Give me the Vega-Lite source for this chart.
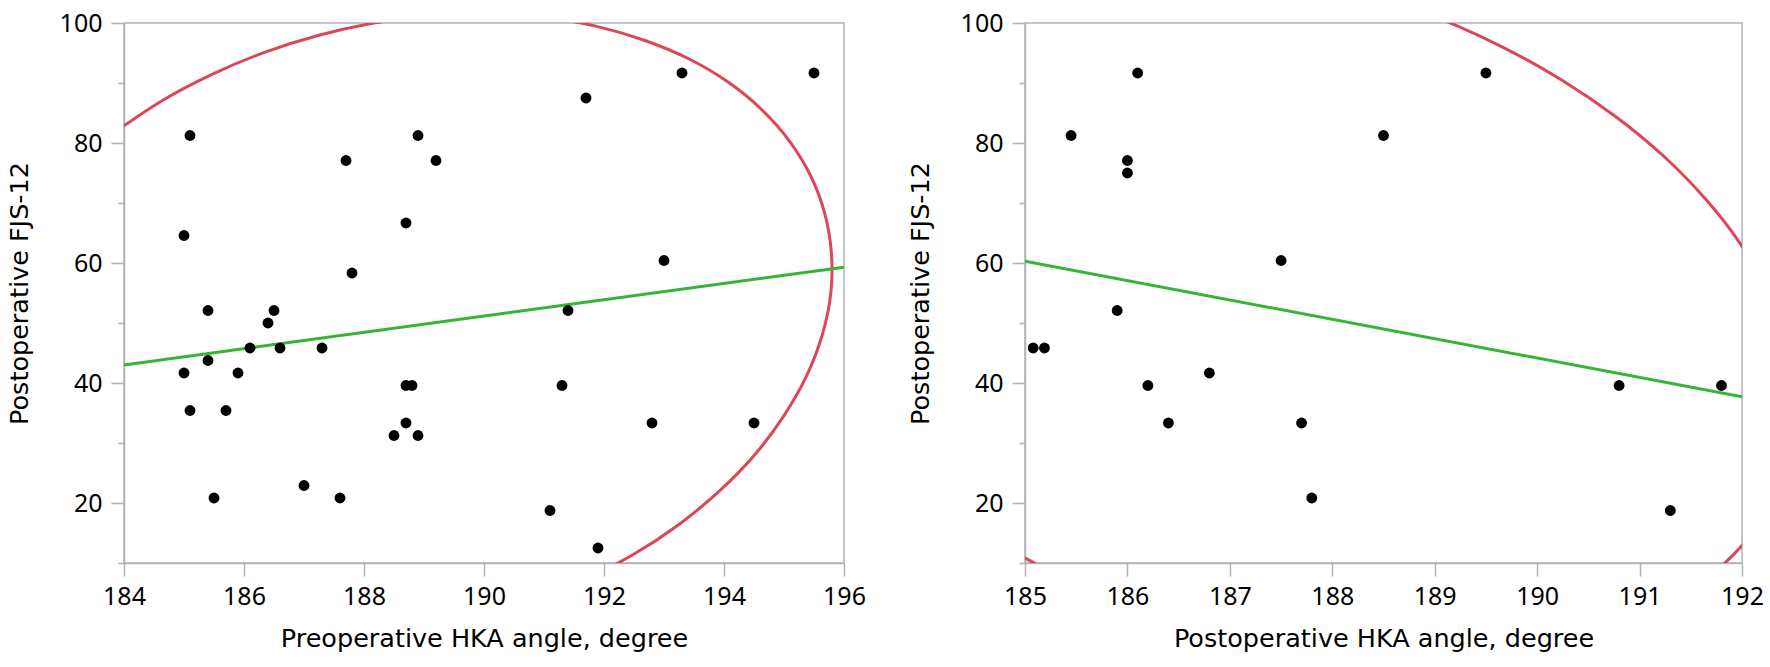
{
  "$schema": "https://vega.github.io/schema/vega-lite/v6.json",
  "padding": {"left": 6, "top": 10, "right": 4, "bottom": 4},
  "background": "white",
  "config": {
    "font": "Noto Sans",
    "view": {"stroke": "#aeb3b8", "strokeWidth": 1.5},
    "axis": {
      "domainColor": "#aeb3b8", "domainWidth": 1.5,
      "tickColor": "#aeb3b8", "tickWidth": 1.5,
      "labelFont": "Noto Sans", "titleFont": "DejaVu Sans",
      "labelFontSize": 25, "titleFontSize": 25.5, "titleFontWeight": "normal",
      "labelColor": "#000", "titleColor": "#000", "grid": false,
      "labelOverlap": false, "labelFlush": false
    }
  },
  "datasets": {
    "ptsL": [
      {"x": 185.1, "y": 81.25}, {"x": 187.7, "y": 77.08}, {"x": 188.9, "y": 81.25}, {"x": 189.2, "y": 77.08},
      {"x": 191.7, "y": 87.5}, {"x": 185.0, "y": 64.58}, {"x": 188.7, "y": 66.67}, {"x": 187.8, "y": 58.33},
      {"x": 185.4, "y": 52.08}, {"x": 186.5, "y": 52.08}, {"x": 186.4, "y": 50.0}, {"x": 191.4, "y": 52.08},
      {"x": 193.3, "y": 91.67}, {"x": 195.5, "y": 91.67}, {"x": 193.0, "y": 60.42}, {"x": 186.1, "y": 45.83},
      {"x": 186.6, "y": 45.83}, {"x": 187.3, "y": 45.83}, {"x": 185.4, "y": 43.75}, {"x": 185.0, "y": 41.67},
      {"x": 185.9, "y": 41.67}, {"x": 185.1, "y": 35.42}, {"x": 185.7, "y": 35.42}, {"x": 188.7, "y": 39.58},
      {"x": 188.8, "y": 39.58}, {"x": 188.7, "y": 33.33}, {"x": 188.5, "y": 31.25}, {"x": 188.9, "y": 31.25},
      {"x": 185.5, "y": 20.83}, {"x": 187.0, "y": 22.92}, {"x": 187.6, "y": 20.83}, {"x": 191.3, "y": 39.58},
      {"x": 191.1, "y": 18.75}, {"x": 191.9, "y": 12.5}, {"x": 192.8, "y": 33.33}, {"x": 194.5, "y": 33.33}
    ],
    "ptsR": [
      {"x": 186.1, "y": 91.67}, {"x": 185.45, "y": 81.25}, {"x": 186.0, "y": 77.08}, {"x": 186.0, "y": 75.0},
      {"x": 187.5, "y": 60.42}, {"x": 185.9, "y": 52.08}, {"x": 189.5, "y": 91.67}, {"x": 188.5, "y": 81.25},
      {"x": 185.08, "y": 45.83}, {"x": 185.19, "y": 45.83}, {"x": 186.2, "y": 39.58}, {"x": 186.8, "y": 41.67},
      {"x": 186.4, "y": 33.33}, {"x": 187.7, "y": 33.33}, {"x": 187.8, "y": 20.83}, {"x": 190.8, "y": 39.58},
      {"x": 191.8, "y": 39.58}, {"x": 191.3, "y": 18.75}
    ],
    "ellL": [
      {"s": "a", "i": 0, "x": 183.86, "y": 81.9}, {"s": "a", "i": 1, "x": 184.62, "y": 86.97},
      {"s": "a", "i": 2, "x": 185.45, "y": 91.37}, {"s": "a", "i": 3, "x": 186.33, "y": 95.07},
      {"s": "a", "i": 4, "x": 187.25, "y": 97.97}, {"s": "a", "i": 5, "x": 188.19, "y": 100.03},
      {"s": "a", "i": 6, "x": 189.14, "y": 101.23}, {"s": "a", "i": 7, "x": 190.08, "y": 101.53},
      {"s": "a", "i": 8, "x": 190.99, "y": 100.96}, {"s": "a", "i": 9, "x": 191.86, "y": 99.48},
      {"s": "a", "i": 10, "x": 192.67, "y": 97.13}, {"s": "a", "i": 11, "x": 193.42, "y": 94.0},
      {"s": "a", "i": 12, "x": 194.08, "y": 90.07}, {"s": "a", "i": 13, "x": 194.64, "y": 85.45},
      {"s": "a", "i": 14, "x": 195.1, "y": 80.2}, {"s": "a", "i": 15, "x": 195.45, "y": 74.42},
      {"s": "a", "i": 16, "x": 195.68, "y": 68.22}, {"s": "a", "i": 17, "x": 195.79, "y": 61.68},
      {"s": "a", "i": 18, "x": 195.78, "y": 54.93}, {"s": "a", "i": 19, "x": 195.64, "y": 48.08},
      {"s": "a", "i": 20, "x": 195.38, "y": 41.27}, {"s": "a", "i": 21, "x": 195.0, "y": 34.57},
      {"s": "a", "i": 22, "x": 194.52, "y": 28.13}, {"s": "a", "i": 23, "x": 193.93, "y": 22.05},
      {"s": "a", "i": 24, "x": 193.25, "y": 16.43}, {"s": "a", "i": 25, "x": 192.48, "y": 11.37},
      {"s": "a", "i": 26, "x": 191.65, "y": 6.97}
    ],
    "ellR": [
      {"s": "a", "i": 0, "x": 188.397, "y": 104.67}, {"s": "a", "i": 1, "x": 189.041, "y": 100.77},
      {"s": "a", "i": 2, "x": 189.657, "y": 96.03}, {"s": "a", "i": 3, "x": 190.235, "y": 90.55},
      {"s": "a", "i": 4, "x": 190.765, "y": 84.42}, {"s": "a", "i": 5, "x": 191.239, "y": 77.75},
      {"s": "a", "i": 6, "x": 191.646, "y": 70.62}, {"s": "a", "i": 7, "x": 191.984, "y": 63.2},
      {"s": "a", "i": 8, "x": 192.243, "y": 55.6},
      {"s": "b", "i": 0, "x": 192.435, "y": 25.92}, {"s": "b", "i": 1, "x": 192.27, "y": 19.33},
      {"s": "b", "i": 2, "x": 192.019, "y": 13.28}, {"s": "b", "i": 3, "x": 191.691, "y": 7.93},
      {"s": "b", "i": 4, "x": 191.291, "y": 3.33},
      {"s": "c", "i": 0, "x": 185.85, "y": 4.03}, {"s": "c", "i": 1, "x": 185.234, "y": 8.77},
      {"s": "c", "i": 2, "x": 184.656, "y": 14.25}, {"s": "c", "i": 3, "x": 184.126, "y": 20.38}
    ],
    "fitL": [{"x": 184, "y": 43.0}, {"x": 196, "y": 59.3}],
    "fitR": [{"x": 185, "y": 60.3}, {"x": 192, "y": 37.7}]
  },
  "bounds": "flush",
  "spacing": 181,
  "hconcat": [
    {
      "width": 720, "height": 540,
      "encoding": {
        "x": {"field": "x", "type": "quantitative",
          "scale": {"domain": [184, 196], "nice": false, "zero": false},
          "axis": {"title": "Preoperative HKA angle, degree", "values": [184, 186, 188, 190, 192, 194, 196],
            "tickSize": 13, "labelPadding": 8, "titlePadding": 17}},
        "y": {"field": "y", "type": "quantitative",
          "scale": {"domain": [10, 100], "nice": false, "zero": false},
          "axis": {"title": "Postoperative FJS-12", "values": [10, 20, 30, 40, 50, 60, 70, 80, 90, 100],
            "labelExpr": "datum.value % 20 === 0 ? datum.label : ''",
            "tickSize": {"condition": {"test": "datum.value % 20 === 0", "value": 13}, "value": 6},
            "labelPadding": 9, "titlePadding": 27}}
      },
      "layer": [
        {"data": {"name": "ellL"},
         "mark": {"type": "line", "color": "#dc4658", "strokeWidth": 3, "clip": true, "interpolate": "natural"},
         "encoding": {"detail": {"field": "s", "type": "nominal"}, "order": {"field": "i", "type": "quantitative"}}},
        {"data": {"name": "fitL"},
         "mark": {"type": "line", "color": "#35b535", "strokeWidth": 3, "clip": true},
         "encoding": {}},
        {"data": {"name": "ptsL"},
         "mark": {"type": "circle", "size": 118, "color": "#000", "opacity": 1}}
      ]
    },
    {
      "width": 717, "height": 540,
      "encoding": {
        "x": {"field": "x", "type": "quantitative",
          "scale": {"domain": [185, 192], "nice": false, "zero": false},
          "axis": {"title": "Postoperative HKA angle, degree", "values": [185, 186, 187, 188, 189, 190, 191, 192],
            "tickSize": 13, "labelPadding": 8, "titlePadding": 17}},
        "y": {"field": "y", "type": "quantitative",
          "scale": {"domain": [10, 100], "nice": false, "zero": false},
          "axis": {"title": "Postoperative FJS-12", "values": [10, 20, 30, 40, 50, 60, 70, 80, 90, 100],
            "labelExpr": "datum.value % 20 === 0 ? datum.label : ''",
            "tickSize": {"condition": {"test": "datum.value % 20 === 0", "value": 13}, "value": 6},
            "labelPadding": 9, "titlePadding": 27}}
      },
      "layer": [
        {"data": {"name": "ellR"},
         "mark": {"type": "line", "color": "#dc4658", "strokeWidth": 3, "clip": true, "interpolate": "natural"},
         "encoding": {"detail": {"field": "s", "type": "nominal"}, "order": {"field": "i", "type": "quantitative"}}},
        {"data": {"name": "fitR"},
         "mark": {"type": "line", "color": "#35b535", "strokeWidth": 3, "clip": true},
         "encoding": {}},
        {"data": {"name": "ptsR"},
         "mark": {"type": "circle", "size": 118, "color": "#000", "opacity": 1}}
      ]
    }
  ]
}
